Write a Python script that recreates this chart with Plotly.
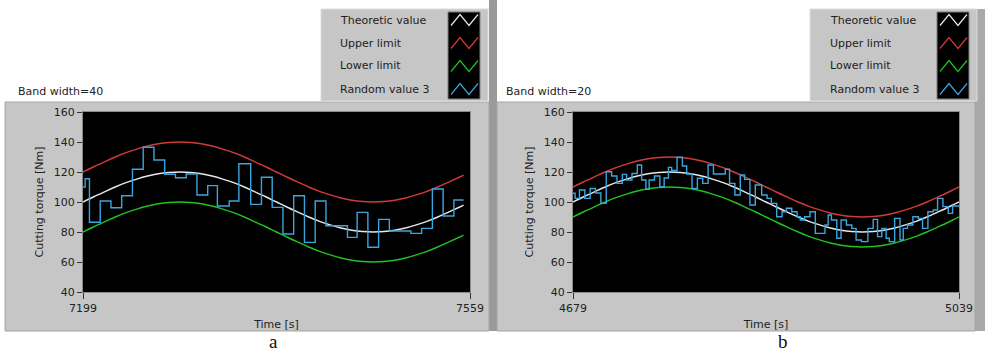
import plotly.graph_objects as go

# ---------------- data ----------------
# Panel a (band width 40): time offsets [s] from 7199
theo_a_t = [0, 10, 20, 30, 40, 50, 60, 70, 80, 90, 100, 110, 120, 130, 140, 150, 160, 170,
            180, 190, 200, 210, 220, 230, 240, 250, 260, 270, 280, 290, 300, 310, 320, 330,
            340, 350, 354]
theo_a = [100, 103.5, 106.8, 110, 112.9, 115.3, 117.3, 118.8, 119.7, 120, 119.7, 118.8, 117.3,
          115.3, 112.9, 110, 106.8, 103.5, 100, 96.5, 93.2, 90, 87.1, 84.7, 82.7, 81.2, 80.3,
          80, 80.3, 81.2, 82.7, 84.7, 87.1, 90, 93.2, 96.5, 97.9]
upper_a = [120, 123.5, 126.8, 130, 132.9, 135.3, 137.3, 138.8, 139.7, 140, 139.7, 138.8, 137.3,
           135.3, 132.9, 130, 126.8, 123.5, 120, 116.5, 113.2, 110, 107.1, 104.7, 102.7, 101.2,
           100.3, 100, 100.3, 101.2, 102.7, 104.7, 107.1, 110, 113.2, 116.5, 117.9]
lower_a = [80, 83.5, 86.8, 90, 92.9, 95.3, 97.3, 98.8, 99.7, 100, 99.7, 98.8, 97.3, 95.3, 92.9,
           90, 86.8, 83.5, 80, 76.5, 73.2, 70, 67.1, 64.7, 62.7, 61.2, 60.3, 60, 60.3, 61.2,
           62.7, 64.7, 67.1, 70, 73.2, 76.5, 77.9]
rand_a_t = [0, 2, 6, 16, 26, 36, 46, 56, 66, 76, 86, 96, 106, 116, 125, 136, 145, 156, 166, 176,
            186, 196, 206, 216, 226, 246, 255, 265, 275, 285, 305, 315, 325, 335, 345, 354]
rand_a = [110, 115.5, 86.5, 100.7, 96.2, 104.2, 121.8, 136.5, 128, 118.5, 116.2, 118.7, 104.7,
          110.9, 97.3, 100.7, 125.5, 98.4, 116.5, 96.4, 78.7, 104.2, 73.1, 100.7, 84.2, 76.4,
          93.1, 69.8, 88.4, 80.7, 79.1, 82.4, 108.7, 90.7, 101.3, 101.3]
start_a = 7199
end_a = 7559

# Panel b (band width 20): time offsets [s] from 4679
theo_b_t = [0, 10, 20, 30, 40, 50, 60, 70, 80, 90, 100, 110, 120, 130, 140, 150, 160, 170,
            180, 190, 200, 210, 220, 230, 240, 250, 260, 270, 280, 290, 300, 310, 320, 330,
            340, 350, 360]
theo_b = [100, 103.5, 106.8, 110, 112.9, 115.3, 117.3, 118.8, 119.7, 120, 119.7, 118.8, 117.3,
          115.3, 112.9, 110, 106.8, 103.5, 100, 96.5, 93.2, 90, 87.1, 84.7, 82.7, 81.2, 80.3,
          80, 80.3, 81.2, 82.7, 84.7, 87.1, 90, 93.2, 96.5, 100]
upper_b = [110, 113.5, 116.8, 120, 122.9, 125.3, 127.3, 128.8, 129.7, 130, 129.7, 128.8, 127.3,
           125.3, 122.9, 120, 116.8, 113.5, 110, 106.5, 103.2, 100, 97.1, 94.7, 92.7, 91.2,
           90.3, 90, 90.3, 91.2, 92.7, 94.7, 97.1, 100, 103.2, 106.5, 110]
lower_b = [90, 93.5, 96.8, 100, 102.9, 105.3, 107.3, 108.8, 109.7, 110, 109.7, 108.8, 107.3,
           105.3, 102.9, 100, 96.8, 93.5, 90, 86.5, 83.2, 80, 77.1, 74.7, 72.7, 71.2, 70.3, 70,
           70.3, 71.2, 72.7, 74.7, 77.1, 80, 83.2, 86.5, 90]
rand_b_t = [0, 2, 6, 11, 16, 21, 26, 31, 36, 41, 46, 50, 55, 60, 64, 68, 71, 76, 81, 85,
            89, 92, 97, 102, 106, 111, 116, 121, 126, 131, 142, 146, 151, 156, 160, 165, 170,
            176, 181, 185, 190, 195, 199, 204, 209, 212, 216, 221, 226, 235, 238, 241, 246,
            250, 255, 260, 264, 269, 275, 280, 284, 288, 292, 295, 300, 305, 308, 312, 317,
            322, 326, 331, 336, 340, 345, 350, 354, 360]
rand_b = [105.8, 102.4, 108, 102.4, 109, 106, 99.1, 120.2, 117.3, 112.4, 118.4, 114.7, 119,
          124.7, 114.7, 108.4, 114.7, 117.3, 110.2, 116, 123.1, 121, 129.8, 124, 118.7, 109.1,
          115.8, 112.4, 124.7, 118.7, 121.8, 112.4, 104.7, 118, 115.1, 98, 111.3, 104.7, 102.4,
          99.1, 90.2, 93.5, 95.8, 93.5, 90.2, 88, 90.2, 93.5, 79.1, 84.7, 91.3, 88, 75.8, 88,
          84.7, 82.4, 74.7, 73.6, 82.4, 88.4, 76.9, 82.4, 75.8, 73.6, 89.1, 74.7, 82.4, 84.7,
          90.2, 89.1, 82.4, 93.5, 94.7, 102.4, 96.9, 92.4, 97.3, 97.3]
start_b = 4679
end_b = 5039

y_ticks = [40, 60, 80, 100, 120, 140, 160]
legend_names = ["Theoretic value", "Upper limit", "Lower limit", "Random value 3"]
band_labels = ["Band width=40", "Band width=20"]
panel_labels = ["a", "b"]

# ---------------- styling ----------------
W, H = 985, 354
C_THEO, C_UP, C_LOW, C_RAND = "#e8e8e8", "#d23a3a", "#1fc21f", "#3aa6e0"
colors = [C_THEO, C_UP, C_LOW, C_RAND]
FONT = "DejaVu Sans"
TXT = "#222222"
FRAME = "#c6c6c6"


def px(x):
    return x / W


def py(y):
    return 1 - y / H


fig = go.Figure()


def add_panel(ax, start, tt, theo, up, lo, rt, rv):
    xa, ya = ("x", "y") if ax == 1 else ("x2", "y2")
    t_abs = [start + t for t in tt]
    for vals, col in [(up, C_UP), (lo, C_LOW), (theo, C_THEO)]:
        fig.add_trace(go.Scatter(x=t_abs, y=vals, mode="lines", xaxis=xa, yaxis=ya,
                                 line=dict(color=col, width=1.4, shape="spline"),
                                 showlegend=False, hoverinfo="skip"))
    fig.add_trace(go.Scatter(x=[start + t for t in rt], y=rv, mode="lines", xaxis=xa, yaxis=ya,
                             line=dict(color=C_RAND, width=1.4, shape="hv"),
                             showlegend=False, hoverinfo="skip"))


add_panel(1, start_a, theo_a_t, theo_a, upper_a, lower_a, rand_a_t, rand_a)
add_panel(2, start_b, theo_b_t, theo_b, upper_b, lower_b, rand_b_t, rand_b)

shapes = []


def rect(x0, y0, x1, y1, fill, line=None, lw=1):
    shapes.append(dict(type="rect", xref="paper", yref="paper", layer="below",
                       x0=px(x0), x1=px(x1), y0=py(y1), y1=py(y0), fillcolor=fill,
                       line=dict(color=line or fill, width=lw if line else 0)))


# frames
rect(489, 0, 497, 331, "#9a9a9a")
rect(975, 9, 985, 331, "#a9a9a9")
rect(5, 102, 489, 331, FRAME, "#a4a4a4")
rect(497, 102, 975, 331, FRAME, "#a4a4a4")
# plot areas (black)
rect(83, 112, 470, 292, "#000000")
rect(573, 112, 959, 292, "#000000")

annotations = []
row_y = [20, 43, 66, 89]
for lx0, tx, sx0 in [(321, 338, 448), (810, 828, 937)]:
    rect(lx0, 9, lx0 + 167, 101, FRAME, "#dcdcdc")
    rect(sx0, 12, sx0 + 32, 99, "#000000", "#7c7c7c")
    for name, col, yc in zip(legend_names, colors, row_y):
        annotations.append(dict(x=px(tx), y=py(yc), xref="paper", yref="paper",
                                text=name, showarrow=False, xanchor="left", yanchor="middle",
                                font=dict(family=FONT, size=11, color=TXT)))
        xs = [sx0 + 3, sx0 + 12, sx0 + 21, sx0 + 30]
        ys = [yc + 5.5, yc - 5.5, yc + 5.5, yc - 5.5]
        path = "M " + " L ".join(f"{px(a):.5f},{py(b):.5f}" for a, b in zip(xs, ys))
        shapes.append(dict(type="path", xref="paper", yref="paper", path=path,
                           line=dict(color=col, width=1.2), layer="above"))

for lbl, x in zip(band_labels, [16, 504]):
    annotations.append(dict(x=px(x), y=py(91), xref="paper", yref="paper", text=lbl,
                            showarrow=False, xanchor="left", yanchor="middle",
                            font=dict(family=FONT, size=11, color=TXT)))
for lbl, x in zip(panel_labels, [273, 783]):
    annotations.append(dict(x=px(x), y=py(341), xref="paper", yref="paper", text=lbl,
                            showarrow=False, xanchor="center", yanchor="middle",
                            font=dict(family="Liberation Serif", size=19, color="#111111")))

axis_font = dict(family=FONT, size=11, color=TXT)


def yax():
    return dict(range=[40, 160], tickvals=y_ticks, ticks="outside", ticklen=5, tickwidth=1,
                tickcolor="#333333", tickfont=axis_font, showgrid=False, zeroline=False,
                showline=True, linecolor="#8a8a8a", linewidth=1, mirror=True,
                automargin=False, domain=[py(292), py(112)],
                title=dict(text="Cutting torque [Nm]", font=axis_font, standoff=7))


def xax(dom, s, e):
    return dict(range=[s, e], tickvals=[s, e], ticktext=[str(s), str(e)], ticks="outside",
                ticklen=6, tickwidth=1, tickcolor="#333333", tickfont=axis_font,
                showgrid=False, zeroline=False, showline=True, linecolor="#8a8a8a",
                linewidth=1, mirror=True, domain=dom, automargin=False,
                title=dict(text="Time [s]", font=axis_font, standoff=6))


fig.update_layout(
    width=W, height=H, autosize=False,
    margin=dict(l=0, r=0, t=0, b=0, pad=0),
    paper_bgcolor="#ffffff", plot_bgcolor="#000000",
    showlegend=False,
    xaxis=dict(**xax([px(83), px(470)], start_a, end_a), anchor="y"),
    yaxis=dict(**yax(), anchor="x"),
    xaxis2=dict(**xax([px(573), px(959)], start_b, end_b), anchor="y2"),
    yaxis2=dict(**yax(), anchor="x2"),
    shapes=shapes, annotations=annotations,
)

fig.write_html("out.html", config={"displayModeBar": False, "staticPlot": True},
               post_script="document.body.style.margin='0px';document.body.style.overflow='hidden';")
